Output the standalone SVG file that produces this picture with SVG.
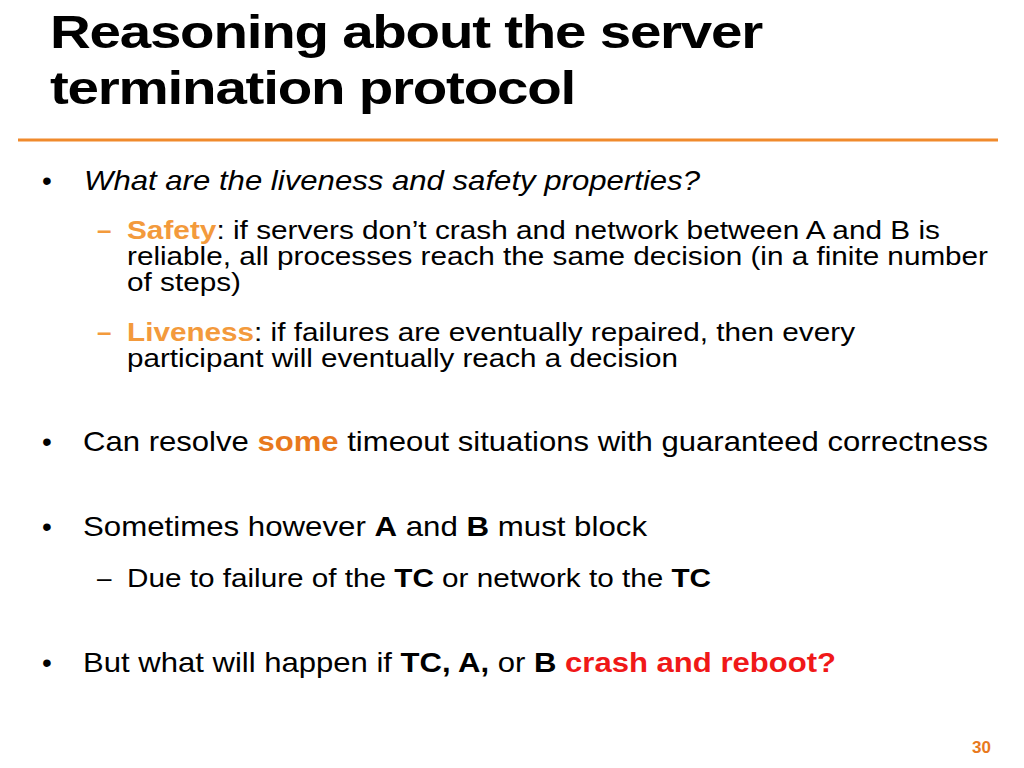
<svg xmlns="http://www.w3.org/2000/svg" width="1024" height="768" viewBox="0 0 1024 768">
<style>
text{font-family:"Liberation Sans",Arial,sans-serif;fill:#000}
.t{font-size:46px;font-weight:bold;letter-spacing:-1px}
.b{font-size:28px}
.s{font-size:26px}
.o{fill:#F39A3C;font-weight:bold}
.o2{fill:#E8791D;font-weight:bold}
.r{fill:#F01818;font-weight:bold}
.k{font-weight:bold}
</style>
<rect width="1024" height="768" fill="#fff"/>
<g id="title">
<text class="t" x="50" y="48" textLength="712" lengthAdjust="spacingAndGlyphs">Reasoning about the server</text>
<text class="t" x="50" y="104" textLength="525" lengthAdjust="spacingAndGlyphs">termination protocol</text>
<line x1="18" y1="140" x2="998" y2="140" stroke="#F08A2C" stroke-width="3"/>
</g>
<g id="body">
<text class="b" x="42" y="190">•</text>
<text class="b" x="84" y="190" font-style="italic" textLength="616" lengthAdjust="spacingAndGlyphs">What are the liveness and safety properties?</text>
<text class="s o" x="97" y="239">–</text>
<text class="s" x="127" y="239" textLength="813" lengthAdjust="spacingAndGlyphs"><tspan class="o">Safety</tspan>: if servers don’t crash and network between A and B is</text>
<text class="s" x="127" y="265" textLength="861" lengthAdjust="spacingAndGlyphs">reliable, all processes reach the same decision (in a finite number</text>
<text class="s" x="127" y="291" textLength="114" lengthAdjust="spacingAndGlyphs">of steps)</text>
<text class="s o" x="97" y="341">–</text>
<text class="s" x="127" y="341" textLength="728" lengthAdjust="spacingAndGlyphs"><tspan class="o">Liveness</tspan>: if failures are eventually repaired, then every</text>
<text class="s" x="127" y="367" textLength="551" lengthAdjust="spacingAndGlyphs">participant will eventually reach a decision</text>
<text class="b" x="42" y="451">•</text>
<text class="b" x="83" y="451" textLength="905" lengthAdjust="spacingAndGlyphs">Can resolve <tspan class="o2">some</tspan> timeout situations with guaranteed correctness</text>
<text class="b" x="42" y="536">•</text>
<text class="b" x="83" y="536" textLength="564" lengthAdjust="spacingAndGlyphs">Sometimes however <tspan class="k">A</tspan> and <tspan class="k">B</tspan> must block</text>
<text class="s" x="97" y="587">–</text>
<text class="s" x="127" y="587" textLength="584" lengthAdjust="spacingAndGlyphs">Due to failure of the <tspan class="k">TC</tspan> or network to the <tspan class="k">TC</tspan></text>
<text class="b" x="42" y="672">•</text>
<text class="b" x="83" y="672" textLength="753" lengthAdjust="spacingAndGlyphs">But what will happen if <tspan class="k">TC, A,</tspan> or <tspan class="k">B</tspan> <tspan class="r">crash and reboot?</tspan></text>
<text x="972" y="753" font-size="17" class="o2">30</text>
</g>
</svg>
